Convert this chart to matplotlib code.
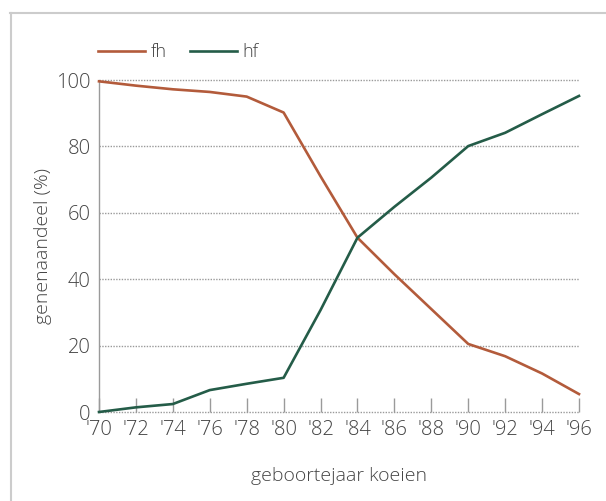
from matplotlib import pyplot as plt
from matplotlib.lines import Line2D

# data
years = [1970, 1972, 1974, 1976, 1978, 1980, 1982, 1984, 1986, 1988, 1990, 1992, 1994, 1996]
yearLabels = ["'70", "'72", "'74", "'76", "'78", "'80", "'82", "'84", "'86", "'88", "'90", "'92", "'94", "'96"]
fh = [99.6, 98.3, 97.2, 96.4, 95.0, 90.2, 71.0, 52.5, 41.5, 31.0, 20.5, 16.8, 11.6, 5.4]
hf = [0.0, 1.4, 2.4, 6.6, 8.5, 10.3, 30.7, 52.5, 61.8, 70.6, 80.1, 84.1, 89.7, 95.2]
yTicks = [0, 20, 40, 60, 80, 100]

fhColor = '#b35b3b'
hfColor = '#245c48'
textColor = '#444444'
gridColor = '#9a9a9a'

plt.rcParams['font.family'] = ['Open Sans', 'DejaVu Sans']
plt.rcParams['font.weight'] = 'light'
plt.rcParams['axes.labelweight'] = 'light'

fig = plt.figure(figsize=(6.06, 5.01), dpi=100)
ax = fig.add_axes([99/606, 1-412/501, 480/606, 332/501])

#Plots the two lines
ax.plot(years, fh, color=fhColor, lw=1.9, label='fh', clip_on=False, zorder=3)
ax.plot(years, hf, color=hfColor, lw=1.9, label='hf', clip_on=False, zorder=3)

ax.set_xlim(1970, 1996)
ax.set_ylim(0, 100)

#Dotted grid lines
for v in yTicks:
    ax.axhline(v, color=gridColor, lw=1, ls=(0, (1, 1)), zorder=1, clip_on=False)

for s in ['top', 'right', 'bottom']:
    ax.spines[s].set_visible(False)
ax.spines['left'].set_color(gridColor)
ax.spines['left'].set_linestyle((0, (1, 1)))
ax.spines['left'].set_linewidth(1)

ax.set_xticks(years)
ax.set_xticklabels(yearLabels)
ax.set_yticks(yTicks)
ax.tick_params(axis='x', direction='in', length=10, color=gridColor, width=1,
               labelsize=14.5, labelcolor=textColor, pad=6)
ax.tick_params(axis='y', length=0, labelsize=14.5, labelcolor=textColor, pad=6)

ax.set_xlabel('geboortejaar koeien', fontsize=14, color=textColor, labelpad=19)
ax.set_ylabel('genenaandeel (%)', fontsize=14, color=textColor, labelpad=3)

ax.legend(loc='lower left', bbox_to_anchor=(-0.002, 1.056), ncol=2, frameon=False,
          fontsize=13, handlelength=2.6, handletextpad=0.3, columnspacing=1.3,
          labelcolor=textColor, borderaxespad=0, borderpad=0)

#Light frame around the chart
fig.add_artist(Line2D([10.5/606, 10.5/606], [0, 1-12.5/501], color='#cccccc', lw=1.5))
fig.add_artist(Line2D([10/606, 1], [1-12.5/501, 1-12.5/501], color='#cccccc', lw=1.5))

fig.savefig('out.png', dpi=100)
